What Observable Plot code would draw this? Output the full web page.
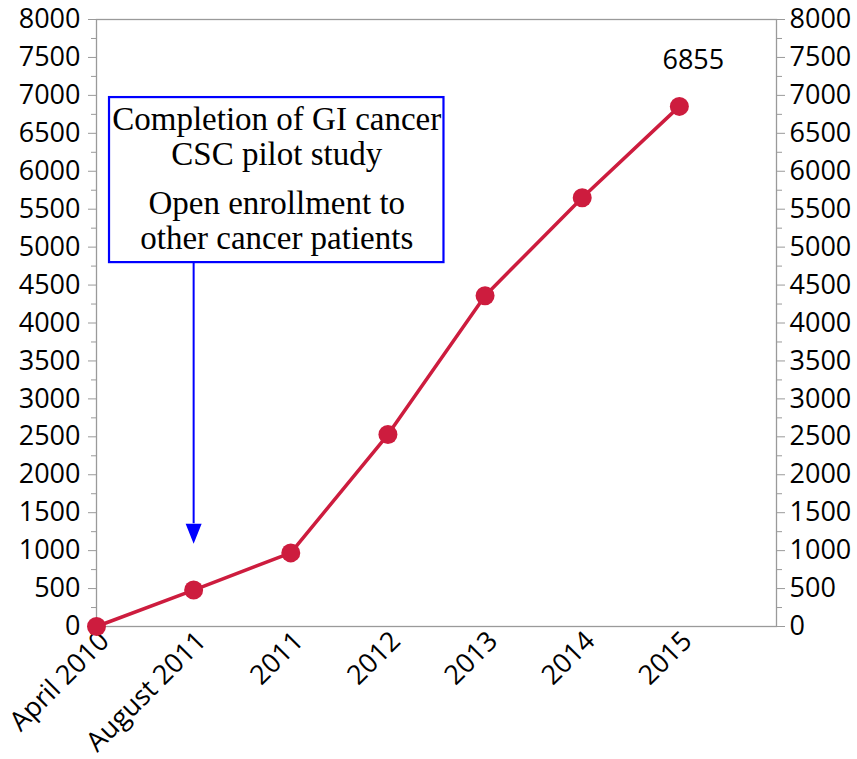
<!DOCTYPE html>
<html>
<head>
<meta charset="utf-8">
<script src="https://cdn.jsdelivr.net/npm/d3@7"></script>
<script src="https://cdn.jsdelivr.net/npm/@observablehq/plot@0.6"></script>
<style>
  html, body { margin: 0; padding: 0; background: white; }
</style>
</head>
<body>
<div id="chart"></div>
<script>
// Data
const periods = ["April 2010", "August 2011", "2011", "2012", "2013", "2014", "2015"];
const enrolled = [0, 480, 970, 2530, 4360, 5650, 6855];
const labelled = [6855];
const majorTicks = [0, 500, 1000, 1500, 2000, 2500, 3000, 3500, 4000, 4500, 5000, 5500, 6000, 6500, 7000, 7500, 8000];
const minorTicks = [250, 750, 1250, 1750, 2250, 2750, 3250, 3750, 4250, 4750, 5250, 5750, 6250, 6750, 7250, 7750];
const noteLines = ["Completion of GI cancer", "CSC pilot study", "Open enrollment to", "other cancer patients"];

const data = periods.map((p, i) => ({i, period: p, value: enrolled[i]}));
const lastIdx = periods.length - 1;

const red = "#CD1C3E";
const blue = "#0000FF";
const gray = "#9a9a9a";

// annotation geometry (data coordinates)
const box = {x1: 0.134, x2: 3.577, y1: 4796, y2: 6971};
const noteY = [6681, 6220, 5574, 5112];
const arrowX = 1;
const arrowTip = 1090;
const arrowHeadTop = 1354;

const downTriangle = {
  draw(ctx) {
    ctx.moveTo(-8, -20);
    ctx.lineTo(8, -20);
    ctx.lineTo(0, 0);
    ctx.closePath();
  }
};

const chart = Plot.plot({
  width: 857,
  height: 759,
  marginLeft: 96,
  marginRight: 81,
  marginTop: 19,
  marginBottom: 133,
  style: {fontFamily: "'Open Sans', sans-serif", fontSize: "27px", background: "white", color: "black"},
  x: {domain: [0, 7]},
  y: {domain: [0, 8000]},
  marks: [
    Plot.frame({stroke: gray, strokeWidth: 1.3}),
    // left axis
    Plot.axisY(majorTicks, {anchor: "left", tickSize: 8, tickPadding: 8, stroke: gray, label: null, fontSize: 27, fill: "black", tickFormat: "d"}),
    Plot.axisY(minorTicks, {anchor: "left", tickSize: 5, text: null, stroke: gray, label: null}),
    // right axis
    Plot.axisY(majorTicks, {anchor: "right", tickSize: 8, tickPadding: 5, stroke: gray, label: null, fontSize: 27, fill: "black", tickFormat: "d"}),
    Plot.axisY(minorTicks, {anchor: "right", tickSize: 5, text: null, stroke: gray, label: null}),
    // x axis
    Plot.axisX(d3.range(periods.length), {
      tickSize: 0, tickPadding: 10, tickRotate: -45, label: null, dx: 8,
      tickFormat: (i) => periods[i], fontSize: 27, fill: "black"
    }),
    // annotation
    Plot.rect([box], {x1: "x1", x2: "x2", y1: "y1", y2: "y2", fill: "white", stroke: blue, strokeWidth: 2.2}),
    Plot.text(noteLines, {
      x: (box.x1 + box.x2) / 2, y: (d, i) => noteY[i], text: (d) => d,
      fontFamily: "'Liberation Serif', 'Times New Roman', serif", fontSize: 33, fill: "black"
    }),
    Plot.ruleX([arrowX], {y1: box.y1, y2: arrowHeadTop, stroke: blue, strokeWidth: 2}),
    Plot.dot([arrowX], {x: (d) => d, y: arrowTip, symbol: downTriangle, r: 5, fill: blue, stroke: "none"}),
    // series
    Plot.line(data, {x: "i", y: "value", stroke: red, strokeWidth: 3.5}),
    Plot.dot(data, {x: "i", y: "value", r: 9.5, fill: red, stroke: "none"}),
    Plot.text(labelled, {x: lastIdx, y: (d) => d, text: (d) => String(d), dx: 14, dy: -46, fontSize: 27, fill: "black"})
  ]
});

document.getElementById("chart").appendChild(chart);
</script>
</body>
</html>
